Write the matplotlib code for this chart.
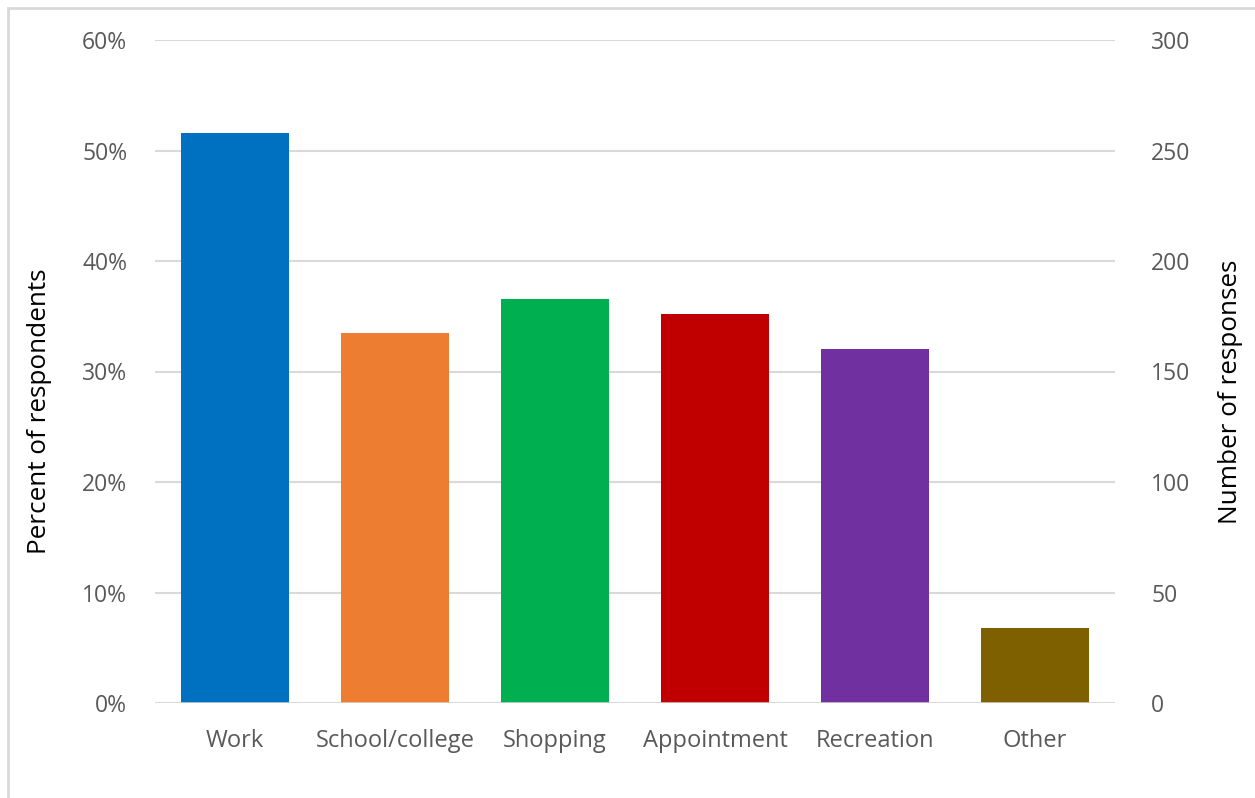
import matplotlib.pyplot as plt
from matplotlib.patches import Rectangle
from matplotlib.ticker import FuncFormatter, MultipleLocator

plt.rcParams['font.family'] = ['Open Sans', 'DejaVu Sans']

# trip purposes and share of respondents (%)
purposes = ["Work", "School/college", "Shopping", "Appointment", "Recreation", "Other"]
percents = [51.6, 33.5, 36.6, 35.2, 32.0, 6.8]
colors = ["#0070C0", "#ED7D31", "#00B050", "#C00000", "#7030A0", "#7F6000"]
# right axis shows response counts: 60% corresponds to 300 responses
responses_per_pct = 300 / 60

grey = "#595959"

fig = plt.figure(figsize=(12.55, 7.98), dpi=100)
ax = fig.add_axes([155 / 1255, 1 - 703 / 798, 960 / 1255, 663 / 798])

x = range(len(purposes))
ax.bar(x, percents, width=0.675, color=colors, zorder=3)

ax.set_xlim(-0.5, len(purposes) - 0.5)
ax.set_ylim(0, 60)
ax.yaxis.set_major_locator(MultipleLocator(10))
ax.yaxis.set_major_formatter(FuncFormatter(lambda v, _: f"{v:.0f}%"))
ax.grid(axis="y", color="#D9D9D9", linewidth=1.5, zorder=0)
ax.set_xticks(list(x))
ax.set_xticklabels(purposes)

for s in ax.spines.values():
    s.set_visible(False)
ax.axhline(0, color="#D9D9D9", linewidth=1.8, zorder=4)

ax.tick_params(axis="y", length=0, pad=20, labelsize=16.5, labelcolor=grey)
ax.tick_params(axis="x", length=0, pad=19, labelsize=17, labelcolor=grey)
ax.set_ylabel("Percent of respondents", fontsize=18.8)
ax.yaxis.set_label_coords(-0.107, 0.44)

ax2 = ax.twinx()
ax2.set_ylim(0, 60 * responses_per_pct)
ax2.yaxis.set_major_locator(MultipleLocator(50))
for s in ax2.spines.values():
    s.set_visible(False)
ax2.tick_params(axis="y", length=0, pad=26, labelsize=16.5, labelcolor=grey)
ax2.set_ylabel("Number of responses", fontsize=18.8)
ax2.yaxis.set_label_coords(1.107, 0.47)

# light chart frame
fig.patches.append(Rectangle((8 / 1255, -0.05), 1.1, 1 - 8 / 798 + 0.05,
                             transform=fig.transFigure, fill=False,
                             edgecolor="#D9D9D9", linewidth=2))

fig.savefig("out.png", dpi=100)
